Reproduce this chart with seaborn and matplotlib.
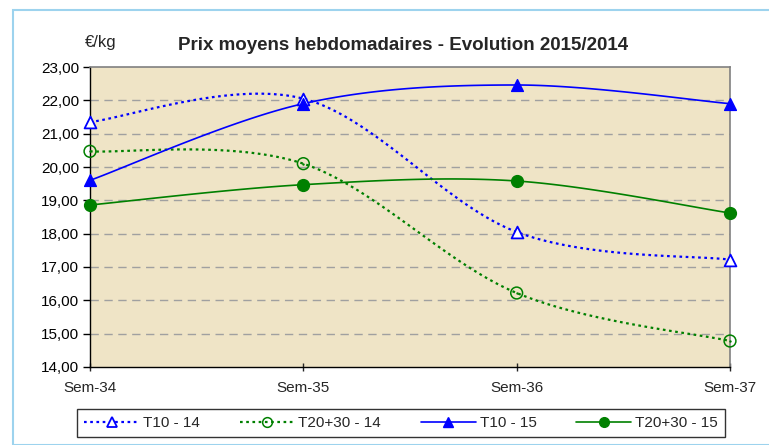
import matplotlib
matplotlib.use("Agg")
import matplotlib.pyplot as plt
import seaborn as sns
import numpy as np
import pandas as pd
from matplotlib.lines import Line2D
from matplotlib.patches import Rectangle
from matplotlib.ticker import FuncFormatter

sns.set_theme(style="white")
plt.rcParams['font.family'] = ['Liberation Sans', 'DejaVu Sans']

# --- data ---
weeks = ["Sem-34", "Sem-35", "Sem-36", "Sem-37"]
t10_14 = [21.35, 22.05, 18.05, 17.22]
t2030_14 = [20.47, 20.10, 16.22, 14.78]
t10_15 = [19.60, 21.90, 22.46, 21.90]
t2030_15 = [18.86, 19.47, 19.58, 18.62]

series_names = ["T10 - 14", "T20+30 - 14", "T10 - 15", "T20+30 - 15"]
series_values = [t10_14, t2030_14, t10_15, t2030_15]

df = pd.DataFrame({"week": weeks * 4,
                   "pos": list(range(len(weeks))) * 4,
                   "serie": np.repeat(series_names, len(weeks)),
                   "prix": sum(series_values, [])})


def smooth(xs, ys, n=40):
    # excel-like smoothed line (catmull-rom bezier)
    pts = np.column_stack([xs, ys]).astype(float)
    out = []
    for i in range(len(pts) - 1):
        p0 = pts[i - 1] if i > 0 else pts[i]
        p1, p2 = pts[i], pts[i + 1]
        p3 = pts[i + 2] if i + 2 < len(pts) else pts[i + 1]
        c1 = p1 + (p2 - p0) / 6
        c2 = p2 - (p3 - p1) / 6
        t = np.linspace(0, 1, n)[:, None]
        seg = (1 - t)**3 * p1 + 3 * (1 - t)**2 * t * c1 + 3 * (1 - t) * t**2 * c2 + t**3 * p2
        out.append(seg if i == 0 else seg[1:])
    out = np.vstack(out)
    return out[:, 0], out[:, 1]


styles = {
    "T10 - 14": dict(color="#0000FF", ls=(0, (1.2, 1.6)), lw=1.6, marker="^", mfc="white", ms=8.5, mew=1.3),
    "T20+30 - 14": dict(color="#008000", ls=(0, (1.2, 1.6)), lw=1.6, marker="o", mfc="none", ms=8.5, mew=1.1),
    "T10 - 15": dict(color="#0000FF", ls="-", lw=1.2, marker="^", mfc="#0000FF", ms=8.5, mew=1.0),
    "T20+30 - 15": dict(color="#008000", ls="-", lw=1.2, marker="o", mfc="#008000", ms=8.5, mew=1.0),
}

fig = plt.figure(figsize=(7.69, 4.45), dpi=100)
fig.patch.set_facecolor("white")
fig.patches.append(Rectangle((13 / 769, 0), 1, 1 - 10 / 445, transform=fig.transFigure,
                             fill=False, edgecolor="#9DD3EE", lw=1.5))
ax = fig.add_axes([90 / 769, 1 - 367 / 445, 640 / 769, 300 / 445])
ax.set_facecolor("#EFE4C6")

for name in series_names:
    sub = df[df["serie"] == name]
    st = styles[name]
    sx, sy = smooth(sub["pos"].values, sub["prix"].values)
    ax.plot(sx, sy, color=st["color"], ls=st["ls"], lw=st["lw"], zorder=3)
    sns.scatterplot(x=sub["pos"], y=sub["prix"], ax=ax, marker=st["marker"],
                    s=st["ms"] ** 2, facecolor=st["mfc"], edgecolor=st["color"],
                    linewidth=st["mew"], zorder=4, clip_on=False, legend=False)
    if name == "T20+30 - 14":
        sns.scatterplot(x=sub["pos"], y=sub["prix"], ax=ax, marker="o", s=3,
                        color=st["color"], linewidth=0, zorder=5, clip_on=False, legend=False)

ax.set_xlim(0, 3)
ax.set_ylim(14, 23)
ax.set_yticks(np.arange(14, 23.5, 1))
ax.yaxis.set_major_formatter(FuncFormatter(lambda v, p: f"{v:.2f}".replace(".", ",")))
ax.set_xticks(range(len(weeks)))
ax.set_xticklabels(weeks)
for y in range(15, 23):
    ax.axhline(y, color="#A0A0A0", lw=1.0, ls=(0, (6, 4)), zorder=1)

ax.tick_params(axis="y", length=5, width=1, direction="out", left=True, labelsize=11, colors="black", pad=3)
ax.tick_params(axis="x", length=6, width=1, direction="inout", bottom=True, labelsize=11, pad=7)
ax.set_xlabel("")
ax.set_ylabel("")
for s in ["left", "bottom"]:
    ax.spines[s].set_color("black")
    ax.spines[s].set_linewidth(1.0)
for s in ["top", "right"]:
    ax.spines[s].set_color("#808080")
    ax.spines[s].set_linewidth(1.2)

fig.text(403 / 769, 1 - 45 / 445, "Prix moyens hebdomadaires - Evolution 2015/2014",
         ha="center", va="center", fontsize=13.5, fontweight="bold")
fig.text(101 / 769, 1 - 42 / 445, "€/kg", ha="center", va="center", fontsize=12)

handles = []
for name in series_names:
    st = styles[name]
    handles.append(Line2D([], [], color=st["color"], ls=st["ls"], lw=st["lw"], marker=st["marker"],
                          markerfacecolor=st["mfc"], markeredgecolor=st["color"],
                          markersize=7, markeredgewidth=st["mew"]))
leg = fig.legend(handles, series_names, loc="center", bbox_to_anchor=(401 / 769, 1 - 423 / 445),
                 ncol=4, frameon=True, fancybox=False, fontsize=11, handlelength=3.6,
                 columnspacing=2.6, handletextpad=0.25, borderpad=0.45, numpoints=1)
leg.get_frame().set_edgecolor("black")
leg.get_frame().set_linewidth(1.0)

fig.savefig("out.png", dpi=100)
